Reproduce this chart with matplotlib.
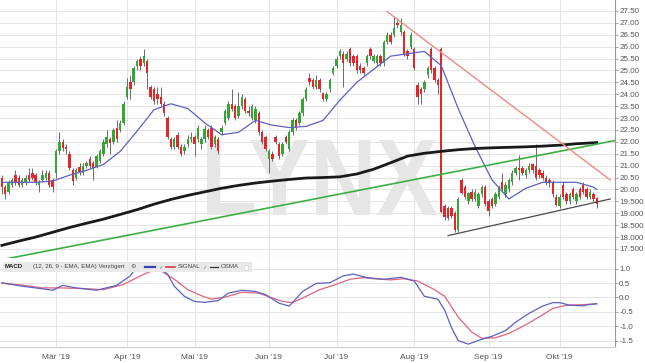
import numpy as np
import pandas as pd
import matplotlib
matplotlib.use('Agg')
import matplotlib.pyplot as plt
from matplotlib.patches import Rectangle, PathPatch
from matplotlib.textpath import TextPath
from matplotlib.font_manager import FontProperties
from matplotlib.transforms import Affine2D

# Xetra trading days, 7 Feb - 16 Oct 2019
holidays = ['2019-04-19', '2019-04-22', '2019-05-01']
dates = pd.bdate_range('2019-02-07', '2019-10-16', freq='C', holidays=holidays)

# daily candles
opens = [
    20.5, 20.1, 19.9, 20.2, 20.6, 20.5, 20.2, 20.3, 20.6, 20.7, 20.6, 20.2, 20.4, 20.5, 20.7, 20.4,
    20.7, 21.6, 22.0, 21.8, 21.5, 20.8, 20.5, 20.95, 20.7, 21.0, 21.3, 21.1, 20.95, 21.2, 21.5, 21.9, 22.1, 22.0, 22.6, 22.5, 22.8,
    23.9, 24.5, 24.5, 25.2, 25.5, 25.3, 25.4, 24.3, 24.2, 24.0, 23.9, 23.6, 23.0, 22.1, 21.8, 22.3, 21.8, 21.6, 21.9, 22.1,
    22.2, 22.1, 21.9, 22.1, 22.5, 22.6, 21.9, 22.1, 22.4, 22.8, 23.0, 23.6, 23.5, 23.1, 23.5, 23.8, 23.3, 23.0, 22.9, 23.2, 22.4, 22.2,
    21.3, 21.5, 22.2, 21.9, 21.5, 22.2, 21.7, 22.4, 22.9, 22.8, 23.2, 23.8, 24.7, 24.6, 24.3, 24.6, 24.05, 23.8, 24.2, 24.9,
    25.2, 25.6, 25.7, 25.5, 25.9, 25.6, 25.6, 25.2, 25.1, 25.3, 25.9, 25.4, 25.3, 25.6, 25.3, 26.2, 26.5, 26.5, 27.0, 26.6, 26.6, 25.8, 26.0,
    25.9, 24.4, 24.2, 24.2, 24.8, 25.9, 25.1, 24.6, 25.9, 19.3, 19.2, 19.2, 19.0, 18.3, 20.4, 20.1, 19.5, 19.9, 19.6, 19.3, 19.8, 20.1,
    19.5, 19.6, 19.4, 19.7, 20.3, 19.8, 20.0, 20.3, 20.7, 20.9, 20.9, 20.6, 20.8, 21.05, 21.0, 20.8, 20.7, 20.5, 20.4, 20.3, 19.7,
    19.3, 20.2, 19.8, 19.5, 20.0, 19.5, 20.0, 20.2, 20.0, 19.7, 19.8, 19.65,
]
closes = [
    20.1, 19.8, 20.3, 20.4, 20.3, 20.2, 20.4, 20.5, 20.4, 20.5, 20.3, 20.3, 20.6, 20.7, 20.2, 20.1,
    21.6, 22.0, 21.75, 21.7, 20.9, 20.35, 20.8, 20.75, 21.0, 21.1, 21.0, 20.9, 21.4, 21.6, 22.0, 22.2, 21.95, 22.5, 22.1, 22.8, 23.6,
    24.3, 24.2, 25.1, 25.4, 25.2, 25.6, 24.9, 23.9, 23.7, 23.8, 23.6, 23.2, 22.2, 21.8, 22.1, 21.8, 21.5, 21.8, 22.1, 22.2,
    21.9, 22.6, 22.1, 22.55, 22.2, 21.8, 22.2, 21.6, 22.6, 23.3, 23.6, 23.4, 23.0, 23.5, 23.9, 23.3, 23.2, 23.5, 23.4, 22.4, 22.0, 21.7,
    21.6, 21.3, 22.0, 21.4, 21.9, 22.0, 22.4, 22.9, 22.6, 23.2, 23.8, 24.2, 24.5, 24.3, 24.6, 24.2, 23.8, 24.0, 24.6, 25.1,
    25.5, 25.8, 25.3, 25.7, 25.3, 25.3, 25.0, 25.0, 24.9, 25.6, 25.6, 25.6, 25.6, 25.3, 26.2, 26.5, 26.2, 26.8, 26.9, 26.9, 25.7, 25.6, 26.5,
    25.1, 23.9, 24.0, 24.5, 25.1, 25.0, 24.6, 24.4, 19.05, 18.85, 18.8, 18.9, 18.3, 19.6, 19.85, 19.7, 19.85, 19.6, 19.9, 19.8, 20.1, 19.4,
    19.1, 19.3, 19.8, 20.1, 20.0, 20.2, 20.4, 20.7, 20.9, 20.8, 20.7, 20.8, 21.0, 20.8, 20.5, 20.6, 20.5, 20.3, 20.25, 19.8, 19.35,
    19.7, 19.7, 19.5, 19.8, 19.7, 19.8, 19.7, 19.9, 19.7, 19.9, 19.6, 19.4,
]
highs = [
    20.6, 20.2, 20.4, 20.5, 20.8, 20.6, 20.5, 20.6, 20.9, 20.9, 20.7, 20.4, 20.8, 20.8, 20.8, 20.5,
    21.7, 22.4, 22.1, 21.9, 21.6, 20.9, 20.9, 21.1, 21.1, 21.2, 21.4, 21.2, 21.5, 21.7, 22.1, 22.5, 22.2, 22.6, 22.9, 22.9, 23.7,
    24.7, 24.8, 25.2, 25.5, 25.6, 25.9, 25.5, 24.4, 24.3, 24.3, 24.3, 23.7, 23.1, 22.2, 22.2, 22.4, 21.9, 21.9, 22.3, 22.4,
    22.3, 22.7, 22.2, 22.7, 22.6, 22.7, 22.3, 22.2, 22.7, 23.4, 23.7, 24.2, 23.6, 24.1, 24.0, 23.9, 23.5, 23.6, 23.5, 23.3, 22.5, 22.3,
    21.7, 21.6, 22.3, 22.0, 22.0, 22.3, 22.5, 23.0, 23.0, 23.3, 23.9, 24.3, 24.9, 24.7, 24.8, 24.7, 24.1, 24.1, 24.7, 25.2,
    25.6, 25.9, 25.8, 25.8, 26.0, 25.7, 25.7, 25.3, 25.2, 25.7, 26.0, 25.7, 25.7, 25.7, 26.3, 26.6, 26.6, 27.3, 27.1, 27.2, 26.7, 25.9, 26.6,
    26.0, 24.5, 24.3, 24.6, 25.2, 26.0, 25.2, 24.7, 26.0, 19.4, 19.3, 19.3, 19.1, 19.7, 20.5, 20.2, 19.9, 20.0, 20.0, 19.9, 20.2, 20.2,
    19.6, 19.7, 19.9, 20.2, 20.7, 20.3, 20.5, 20.8, 21.0, 21.45, 21.0, 20.9, 21.1, 21.1, 21.9, 20.9, 20.8, 20.6, 20.5, 20.4, 19.8,
    19.8, 20.3, 19.9, 19.9, 20.1, 19.9, 20.1, 20.3, 20.1, 20.0, 19.9, 19.7,
]
lows = [
    19.8, 19.6, 19.8, 20.1, 20.2, 20.1, 20.1, 20.2, 20.3, 20.4, 20.2, 19.9, 20.3, 20.4, 20.1, 19.9,
    20.5, 21.5, 21.6, 21.5, 20.8, 20.2, 20.4, 20.6, 20.6, 20.9, 20.9, 20.4, 20.9, 21.1, 21.4, 21.8, 21.5, 21.9, 22.0, 22.4, 22.7,
    23.8, 23.8, 24.4, 25.0, 25.0, 25.2, 24.2, 23.8, 23.6, 23.6, 23.5, 23.1, 22.1, 21.7, 21.7, 21.7, 21.4, 21.5, 21.8, 22.0,
    21.4, 22.0, 21.7, 22.0, 22.1, 21.7, 21.8, 21.5, 22.3, 22.7, 22.9, 23.3, 22.9, 23.0, 23.4, 23.2, 23.1, 22.9, 22.8, 22.3, 21.9, 21.6,
    20.7, 21.2, 21.9, 21.3, 21.4, 21.9, 21.6, 22.3, 22.5, 22.7, 23.1, 23.7, 24.4, 24.2, 24.2, 24.1, 23.7, 23.7, 24.1, 24.8,
    25.1, 25.5, 24.3, 25.4, 25.2, 25.2, 24.9, 24.9, 24.8, 25.2, 25.5, 25.3, 25.2, 25.2, 25.2, 26.1, 26.1, 26.4, 26.8, 26.5, 25.6, 25.5, 25.9,
    25.0, 23.6, 23.6, 24.1, 24.7, 24.9, 24.5, 24.0, 19.0, 18.7, 18.7, 18.8, 18.2, 18.2, 19.8, 19.6, 19.4, 19.5, 19.5, 19.2, 19.7, 19.3,
    18.9, 19.2, 19.3, 19.6, 19.9, 19.7, 19.9, 20.2, 20.6, 20.4, 20.6, 20.5, 20.7, 20.7, 20.4, 20.5, 20.4, 20.2, 20.1, 19.7, 19.3,
    19.2, 19.6, 19.4, 19.4, 19.6, 19.4, 19.6, 19.8, 19.6, 19.6, 19.5, 19.2,
]

# moving averages, read every 5th trading day
ma_pos = list(range(0, 176, 5)) + [176]
ma20 = [20.3, 20.3, 20.3, 20.35, 20.6, 20.8, 21.05, 21.6, 22.45, 23.35, 23.6, 23.4, 22.8, 22.3, 22.4,
        22.9, 22.7, 22.6, 22.65, 22.9, 23.75, 24.5, 25.05, 25.6, 25.7, 25.8, 25.2, 23.4, 21.8, 20.4,
        19.6, 20.05, 20.3, 20.3, 20.3, 20.1, 20.0]
ma200 = [17.65, 17.83, 18.0, 18.2, 18.4, 18.58, 18.75, 18.95, 19.15, 19.38, 19.58, 19.75, 19.9, 20.05,
         20.17, 20.27, 20.35, 20.42, 20.48, 20.5, 20.53, 20.65, 20.85, 21.12, 21.4, 21.52, 21.6, 21.67,
         21.72, 21.75, 21.77, 21.79, 21.82, 21.86, 21.92, 21.96, 21.97]

# hand drawn trend lines (trading-day index, price)
green_trend = ([-1, 182], [17.02, 22.07])
red_trend = ([114, 180], [27.47, 20.4])
support_trend = ([132, 180], [18.06, 19.6])

# MACD panel (trading-day index, value)
macd_pos = [0, 6, 12, 15, 18, 22, 28, 34, 38, 40, 42, 45, 49, 51, 54, 57, 60, 64, 67, 71,
            75, 78, 82, 85, 89, 93, 97, 101, 104, 108, 113, 118, 122, 125, 129, 131, 133, 135, 138, 142,
            145, 149, 152, 156, 160, 163, 165, 168, 172, 174, 176]
macd = [0.51, 0.39, 0.30, 0.25, 0.42, 0.33, 0.25, 0.42, 0.75, 1.10, 1.17, 1.17, 0.81, 0.39, 0.04,
        -0.14, -0.17, -0.11, 0.15, 0.25, 0.21, 0.10, -0.20, -0.30, 0.21, 0.49, 0.51, 0.75, 0.81, 0.69,
        0.63, 0.70, 0.57, 0.04, -0.06, -0.44, -1.04, -1.50, -1.62, -1.45, -1.35, -1.15, -0.86, -0.55,
        -0.30, -0.18, -0.18, -0.27, -0.29, -0.24, -0.22]
signal_pos = [0, 6, 12, 18, 24, 30, 36, 41, 45, 47, 51, 55, 59, 62, 66, 71, 76, 80, 83, 86,
              89, 94, 98, 103, 107, 110, 115, 119, 123, 128, 131, 135, 139, 142, 146, 150, 155, 160, 163, 167,
              172, 176]
signal = [0.49, 0.43, 0.33, 0.33, 0.31, 0.27, 0.45, 0.75, 0.96, 0.93, 0.63, 0.27, 0.06, -0.06, 0.01,
          0.18, 0.15, -0.02, -0.14, -0.18, -0.02, 0.27, 0.42, 0.63, 0.69, 0.65, 0.61, 0.65, 0.57, 0.27,
          0.04, -0.68, -1.20, -1.42, -1.40, -1.25, -0.95, -0.60, -0.38, -0.27, -0.25, -0.22]

month_labels = ["Mär '19", "Apr '19", "Mai '19", "Jun '19", "Jul '19", "Aug '19", "Sep '19", "Okt '19"]
price_ticks = np.arange(17.5, 27.51, 0.5)
price_labels = ['17.500', '18.000', '18.500', '19.000', '19.500', '20.00', '20.50', '21.00', '21.50',
                '22.00', '22.50', '23.00', '23.50', '24.00', '24.50', '25.00', '25.50', '26.00',
                '26.50', '27.00', '27.50']
macd_ticks = [1.0, 0.5, 0.0, -0.5, -1.0, -1.5]
macd_labels = ['1.0', '0.5', '0.0', '-0.5', '-1.0', '-1.5']

plt.rcParams['font.family'] = ['Liberation Sans', 'DejaVu Sans']

x = np.arange(len(dates))
o, c, h, l = map(np.array, (opens, closes, highs, lows))
month_pos = [int(np.argmax(dates.month == m)) for m in range(3, 11)]

fig = plt.figure(figsize=(6.45, 3.63), dpi=100)
ax = fig.add_axes([0, 0.2893, 0.9535, 0.7107])
ax2 = fig.add_axes([0, 0.0441, 0.9535, 0.2452], sharex=ax)

grid_c = '#e4e4e4'
for a in (ax, ax2):
    a.set_facecolor('white')
    for s in ('left', 'top'):
        a.spines[s].set_visible(False)
    a.spines['right'].set_color('#9a9a9a')
    a.spines['bottom'].set_color('#cfcfcf')
    a.yaxis.tick_right()
    a.tick_params(axis='y', length=2, width=0.6, color='#9a9a9a', labelsize=5.8,
                  labelcolor='#555555', pad=1)
    a.grid(True, color=grid_c, lw=0.7)
    a.set_axisbelow(True)

# candles
up = c >= o
ax.vlines(x, l, h, color='#6a6a6a', lw=0.7, zorder=2)
body = np.maximum(np.abs(c - o), 0.04)
ax.bar(x[up], body[up], bottom=np.minimum(o, c)[up], width=0.72, color='#35a535', zorder=3)
ax.bar(x[~up], body[~up], bottom=np.minimum(o, c)[~up], width=0.72, color='#e3262a', zorder=3)

ax.plot(ma_pos, ma20, color='#5b61c2', lw=0.9, zorder=4)
ax.plot(ma_pos, ma200, color='#1a1a1a', lw=2.0, zorder=4)
ax.plot(*green_trend, color='#3cb043', lw=1.2, zorder=5)
ax.plot(*red_trend, color='#ef8a84', lw=1.0, zorder=5)
ax.plot(*support_trend, color='#4a4a4a', lw=0.9, zorder=5)

ax.set_ylim(17.12, 27.96)
ax.set_yticks(price_ticks)
ax.set_yticklabels(price_labels)
ax.set_xlim(-0.56, 181.4)
ax.set_xticks(month_pos)
ax.tick_params(axis='x', length=0, labelbottom=False)

# LYNX watermark, stretched to its box in pixels (figure dpi == save dpi)
tp = TextPath((0, 0), 'LYNX', size=100, prop=FontProperties(family='Liberation Sans', weight='bold'))
bb = tp.get_extents()
wm_tr = Affine2D().translate(-bb.x0, -bb.y0).scale(230 / bb.width, 75 / bb.height).translate(207, 148)
ax.add_patch(PathPatch(tp, transform=wm_tr, facecolor='#e6e6e6', edgecolor='none', zorder=1))

# MACD panel
ax2.plot(signal_pos, signal, color='#e0647c', lw=0.9, zorder=3)
ax2.plot(macd_pos, macd, color='#5b61c2', lw=0.9, zorder=4)
ax2.set_ylim(-1.72, 1.37)
ax2.set_yticks(macd_ticks)
ax2.set_yticklabels(macd_labels)
ax2.set_xticks(month_pos)
ax2.set_xticklabels(month_labels)
ax2.tick_params(axis='x', length=0, labelsize=6, labelcolor='#555555', pad=5)

# MACD legend box
ax2.add_patch(Rectangle((0.005, 0.843), 0.405, 0.112, transform=ax2.transAxes,
                        facecolor='#e9e9e9', edgecolor='none', zorder=6))
ty = 0.899
fs = 4.4
ax2.text(0.008, ty, 'MACD', transform=ax2.transAxes, fontsize=fs, fontweight='bold',
         va='center', color='#222222', zorder=7)
ax2.text(0.054, ty, '(12, 26, 9 - EMA, EMA) Verzögert', transform=ax2.transAxes, fontsize=fs,
         va='center', color='#444444', zorder=7)
ax2.text(0.212, ty, '⚙', transform=ax2.transAxes, fontsize=fs, va='center', color='#555555',
         zorder=7, family=['DejaVu Sans'])
ax2.plot([0.236, 0.252], [ty, ty], transform=ax2.transAxes, color='#3b3fb0', lw=1.6, zorder=7)
ax2.text(0.257, ty, '✓', transform=ax2.transAxes, fontsize=3.8, va='center', color='#777777',
         zorder=7, family=['DejaVu Sans'])
ax2.plot([0.27, 0.285], [ty, ty], transform=ax2.transAxes, color='#e0364f', lw=1.2, zorder=7)
ax2.text(0.289, ty, 'SIGNAL', transform=ax2.transAxes, fontsize=fs, va='center', color='#444444',
         zorder=7)
ax2.text(0.328, ty, '✓', transform=ax2.transAxes, fontsize=3.8, va='center', color='#777777',
         zorder=7, family=['DejaVu Sans'])
ax2.plot([0.341, 0.355], [ty, ty], transform=ax2.transAxes, color='#333333', lw=0.9, zorder=7)
ax2.text(0.359, ty, 'OSMA', transform=ax2.transAxes, fontsize=fs, va='center', color='#444444',
         zorder=7)
ax2.add_patch(Rectangle((0.396, 0.87), 0.008, 0.055, transform=ax2.transAxes,
                        facecolor='white', edgecolor='#cccccc', lw=0.4, zorder=7))

fig.savefig('out.png', dpi=100)
